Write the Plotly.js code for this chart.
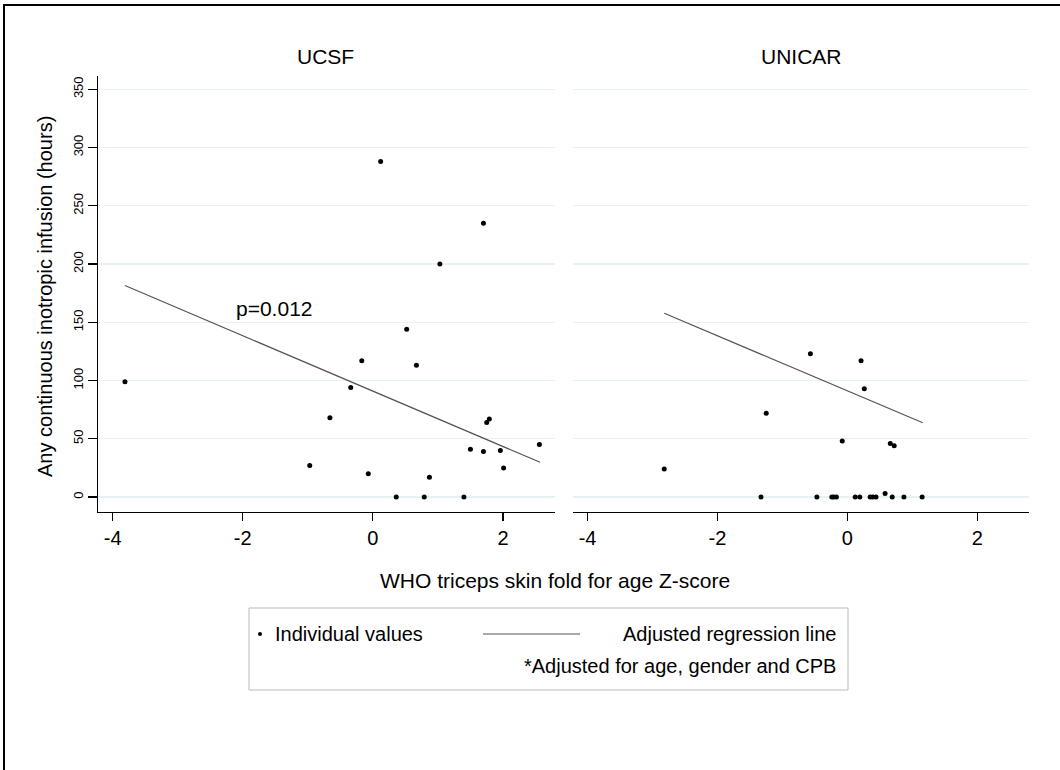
<!DOCTYPE html>
<html>
<head>
<meta charset="utf-8">
<script src="https://cdn.plot.ly/plotly-3.0.1.min.js"></script>
<style>html,body{margin:0;padding:0;background:#fff;}#chart{width:1060px;height:770px;}</style>
</head>
<body>
<div id="chart"></div>
<script>
// ---- data ----
const panelTitles = ["UCSF", "UNICAR"];
const ucsfX = [-3.81, 0.12, 1.70, 1.03, 0.52, -0.17, 0.67, -0.34, -0.66, 1.75, 1.79, 2.56, 1.50, 1.70, 1.96, 2.01, -0.97, -0.07, 0.87, 0.36, 0.79, 1.40];
const ucsfY = [99, 288, 235, 200, 144, 117, 113, 94, 68, 64, 67, 45, 41, 39, 40, 25, 27, 20, 17, 0, 0, 0];
const unicarX = [-2.82, -1.25, -0.57, 0.21, 0.26, -0.08, 0.66, 0.72, 0.58, -1.33, -0.47, -0.24, -0.21, -0.17, 0.12, 0.19, 0.35, 0.39, 0.44, 0.69, 0.87, 1.15];
const unicarY = [24, 72, 123, 117, 93, 48, 46, 44, 3, 0, 0, 0, 0, 0, 0, 0, 0, 0, 0, 0, 0, 0];
const ucsfFitX = [-3.81, 2.57];
const ucsfFitY = [181.5, 29.8];
const unicarFitX = [-2.82, 1.16];
const unicarFitY = [157.7, 63.8];
const xTicks = [-4, -2, 0, 2];
const yTicks = [0, 50, 100, 150, 200, 250, 300, 350];
const pLabel = "p=0.012";
const pPos = [-2.14, 162];
const xTitle = "WHO triceps skin fold for age Z-score";
const yTitle = "Any continuous inotropic infusion (hours)";
const legendLabels = ["Individual values", "Adjusted regression line", "*Adjusted for age, gender and CPB"];

// ---- layout helpers (pixels -> paper) ----
const W = 1060, H = 770;
const px = v => v / W;
const py = v => 1 - v / H;
const FONT = "Liberation Sans, Arial, Helvetica, sans-serif";

const pts = (x, y, xa, ya) => ({x, y, xaxis: xa, yaxis: ya, type: "scatter", mode: "markers",
  marker: {color: "#000", size: 5}, showlegend: false, hoverinfo: "x+y"});
const fit = (x, y, xa, ya) => ({x, y, xaxis: xa, yaxis: ya, type: "scatter", mode: "lines",
  line: {color: "#555", width: 1.2}, showlegend: false});

const data = [
  pts(ucsfX, ucsfY, "x", "y"),
  fit(ucsfFitX, ucsfFitY, "x", "y"),
  pts(unicarX, unicarY, "x2", "y2"),
  fit(unicarFitX, unicarFitY, "x2", "y2")
];

const xRange = [-4.22, 2.80];
const yRange = [-12.6, 361.6];
const xaxisBase = {
  range: xRange, tickvals: xTicks, ticktext: xTicks.map(String), ticks: "outside", ticklen: 8,
  tickcolor: "#000", tickwidth: 1.2, showline: true, linecolor: "#000", linewidth: 1.2,
  showgrid: false, zeroline: false, tickfont: {family: FONT, size: 20, color: "#000"}
};
const yaxisBase = {
  range: yRange, tickvals: yTicks, showgrid: true, gridcolor: "#e8f1f4", gridwidth: 1.2,
  zeroline: false, domain: [py(511.7), py(75.7)]
};

const layout = {
  width: W, height: H, margin: {l: 0, r: 0, t: 0, b: 0},
  paper_bgcolor: "#fff", plot_bgcolor: "#fff", showlegend: false,
  xaxis: Object.assign({}, xaxisBase, {domain: [px(98.3), px(555)], anchor: "y"}),
  xaxis2: Object.assign({}, xaxisBase, {domain: [px(573.3), px(1029.3)], anchor: "y2"}),
  yaxis: Object.assign({}, yaxisBase, {anchor: "x", ticktext: yTicks.map(String), ticks: "outside",
    ticklen: 9, tickcolor: "#000", tickwidth: 1.2, showline: true, linecolor: "#000", linewidth: 1.2,
    tickangle: -90, tickfont: {family: FONT, size: 13, color: "#000"}}),
  yaxis2: Object.assign({}, yaxisBase, {anchor: "x2", showticklabels: false, ticks: "", showline: false}),
  annotations: [
    {text: panelTitles[0], xref: "paper", yref: "paper", x: px(325), y: py(57), xanchor: "center", yanchor: "middle",
      showarrow: false, font: {family: FONT, size: 21, color: "#000"}},
    {text: panelTitles[1], xref: "paper", yref: "paper", x: px(801), y: py(57), xanchor: "center", yanchor: "middle",
      showarrow: false, font: {family: FONT, size: 21, color: "#000"}},
    {text: pLabel, xref: "x", yref: "y", x: pPos[0], y: pPos[1], xanchor: "left", yanchor: "middle",
      showarrow: false, font: {family: FONT, size: 21, color: "#000"}},
    {text: xTitle, xref: "paper", yref: "paper", x: px(555), y: py(580), xanchor: "center", yanchor: "middle",
      showarrow: false, font: {family: FONT, size: 21, color: "#000"}},
    {text: yTitle, xref: "paper", yref: "paper", x: px(45), y: py(297), xanchor: "center", yanchor: "middle",
      textangle: -90, showarrow: false, font: {family: FONT, size: 20, color: "#000"}},
    {text: legendLabels[0], xref: "paper", yref: "paper", x: px(273), y: py(634), xanchor: "left", yanchor: "middle",
      showarrow: false, font: {family: FONT, size: 20, color: "#000"}},
    {text: legendLabels[1], xref: "paper", yref: "paper", x: px(838), y: py(634), xanchor: "right", yanchor: "middle",
      showarrow: false, font: {family: FONT, size: 20, color: "#000"}},
    {text: legendLabels[2], xref: "paper", yref: "paper", x: px(838), y: py(666), xanchor: "right", yanchor: "middle",
      showarrow: false, font: {family: FONT, size: 20, color: "#000"}}
  ],
  shapes: [
    {type: "rect", xref: "paper", yref: "paper", x0: px(4), y0: py(5), x1: px(1075), y1: py(790),
      line: {color: "#000", width: 2}},
    {type: "rect", xref: "paper", yref: "paper", x0: px(249), y0: py(608), x1: px(848), y1: py(690),
      line: {color: "#bbb", width: 1}},
    {type: "circle", xref: "paper", yref: "paper", x0: px(258), y0: py(632), x1: px(262), y1: py(636),
      fillcolor: "#000", line: {color: "#000", width: 0}},
    {type: "line", xref: "paper", yref: "paper", x0: px(483), y0: py(634), x1: px(580), y1: py(634),
      line: {color: "#555", width: 1.2}}
  ]
};

Plotly.newPlot("chart", data, layout, {displayModeBar: false, staticPlot: true});
</script>
</body>
</html>
